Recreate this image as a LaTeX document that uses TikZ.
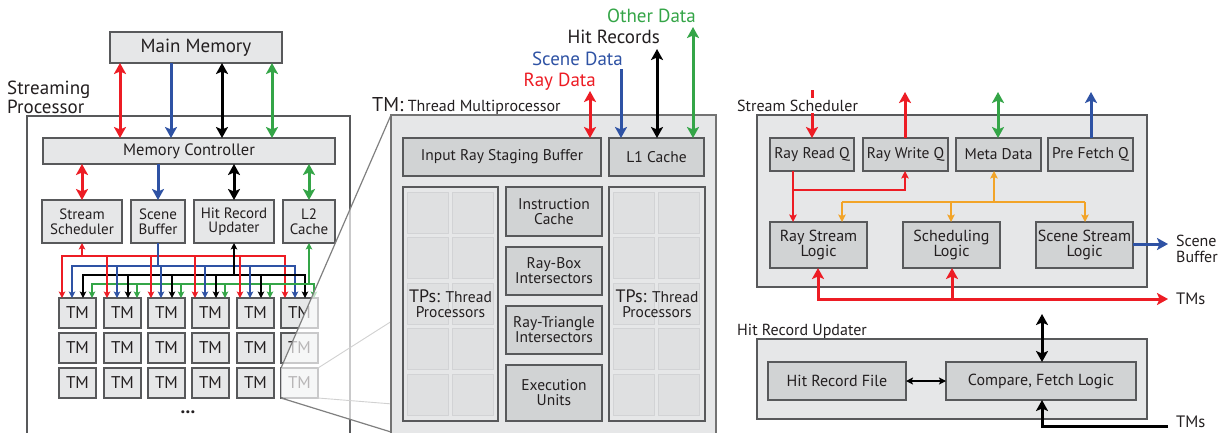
\documentclass[tikz,border=0pt]{standalone}
\usepackage{fontspec}
\setmainfont{PT Sans}
\usetikzlibrary{arrows.meta}
\definecolor{cred}{HTML}{ED1C24}
\definecolor{cblue}{HTML}{2E52A4}
\definecolor{cgreen}{HTML}{34A547}
\definecolor{corange}{HTML}{F2A428}
\definecolor{ctext}{HTML}{231F20}
\definecolor{cbord}{HTML}{58595B}
\definecolor{clight}{HTML}{E6E7E8}
\definecolor{cdark}{HTML}{D1D3D4}
\definecolor{ccell}{HTML}{DFE0E1}
\definecolor{ccelld}{HTML}{D2D3D5}
\newcommand{\myfz}[2]{\fontsize{#1}{#2}\selectfont}
\newcommand{\bx}[7][]{\node[#1,anchor=north west,minimum width={(#4)-(#2)},minimum height={(#5)-(#3)}] (#6) at (#2,#3) {#7};}
\tikzset{
  box/.style={draw=cbord, fill=clight, line width=1.3pt, inner sep=0pt, outer sep=0pt, align=center, text=ctext},
  dbox/.style={box, fill=cdark},
  lbl/.style={inner sep=0pt, text=ctext},
  thka/.style={line width=3pt, -{Stealth[length=11pt,width=12pt,inset=2.5pt]}},
  thkd/.style={line width=3pt, {Stealth[length=11pt,width=12pt,inset=2.5pt]}-{Stealth[length=11pt,width=12pt,inset=2.5pt]}},
  bus/.style={line width=1.8pt},
  busa/.style={line width=1.8pt, -{Stealth[length=6.5pt,width=6.5pt,inset=1.5pt]}},
  busd/.style={line width=1.8pt, {Stealth[length=6.5pt,width=6.5pt,inset=1.5pt]}-{Stealth[length=6.5pt,width=6.5pt,inset=1.5pt]}},
  mida/.style={line width=2pt, -{Stealth[length=7.5pt,width=7.5pt,inset=1.5pt]}},
  thind/.style={line width=1.3pt, {Stealth[length=7pt,width=7pt,inset=1.5pt]}-{Stealth[length=7pt,width=7pt,inset=1.5pt]}},
}
\begin{document}
\begin{tikzpicture}[x=1pt,y=-1pt]
\useasboundingbox (0,0) rectangle (1225,432);
\fill[white] (0,0) rectangle (1225,432);

% ================= LEFT: Streaming Processor =================
\node[lbl, anchor=north west, align=left, font=\myfz{19}{17}] (splbl) at (7,81) {Streaming\\Processor};
\bx[box, fill=white]{27}{116}{350}{445}{sp}{}
\bx[box, font=\myfz{19}{19}]{110}{32}{282}{63}{mm}{Main Memory}
\bx[box, font=\myfz{16.5}{16.5}]{43}{138}{335}{164}{mc}{Memory Controller}
\bx[box, font=\myfz{15}{14.5}]{42}{200}{122}{243}{ss}{Stream\\Scheduler}
\bx[box, font=\myfz{15}{14.5}]{131}{200}{185}{243}{sb}{Scene\\Buffer}
\bx[box, font=\myfz{15}{14.5}]{194}{200}{274}{243}{hru}{Hit Record\\Updater}
\bx[box, font=\myfz{15}{14.5}]{283}{200}{335}{243}{ltwo}{L2\\Cache}

\draw[thkd, cred]   (mm.south -| 120,0) -- (mc.north -| 120,0);
\draw[thka, cblue]  (mm.south -| 171,0) -- (mc.north -| 171,0);
\draw[thkd, black]  (mm.south -| 222,0) -- (mc.north -| 222,0);
\draw[thkd, cgreen] (mm.south -| 272,0) -- (mc.north -| 272,0);

\draw[thkd, cred]   (mc.south -| 82,0)  -- (ss.north -| 82,0);
\draw[thka, cblue]  (mc.south -| 158,0) -- (sb.north -| 158,0);
\draw[thkd, black]  (mc.south -| 234,0) -- (hru.north -| 234,0);
\draw[thkd, cgreen] (mc.south -| 309,0) -- (ltwo.north -| 309,0);

% TM grid
\foreach \y [count=\r] in {298,333,368} {
  \foreach \x [count=\c] in {59,104,148,192,237,281} {
    \bx[box, font=\myfz{17}{17}]{\x}{\y}{\x+37}{\y+30}{tm-\r-\c}{TM}
  }
}
\node[lbl, font=\myfz{19}{19}\bfseries] (dots) at (188,412) {...};

% buses
\draw[busd, cred]   (tm-1-1.north -| 62,0) -- (62,256) -- (285,256) -- (tm-1-6.north -| 285,0);
\draw[busd, cblue]  (tm-1-1.north -| 72,0) -- (72,266) -- (295,266) -- (tm-1-6.north -| 295,0);
\draw[busd, black]  (tm-1-1.north -| 83,0) -- (83,275) -- (305,275) -- (tm-1-6.north -| 305,0);
\draw[busd, cgreen] (tm-1-1.north -| 92,0) -- (92,284) -- (314,284) -- (tm-1-6.north -| 314,0);
\foreach \x [count=\c from 2] in {104,148,192,237} {
  \draw[busa, cred]   (\x+3,256)  -- (tm-1-\c.north -| \x+3,0);
  \draw[busa, cblue]  (\x+13,266) -- (tm-1-\c.north -| \x+13,0);
  \draw[busa, black]  (\x+24,275) -- (tm-1-\c.north -| \x+24,0);
  \draw[busa, cgreen] (\x+33,284) -- (tm-1-\c.north -| \x+33,0);
}
\draw[busa, cred]   (82,256)  -- (ss.south -| 82,0);
\draw[bus, cblue]   (sb.south -| 158,0) -- (158,266);
\draw[busa, black]  (234,275) -- (hru.south -| 234,0);
\draw[busa, cgreen] (309,284) -- (ltwo.south -| 309,0);

% magnifier frustum
\fill[white, opacity=0.68] (281,368) -- (391,115) -- (716,115) -- (716,432) -- (391,432) -- (281,397) -- cycle;
\draw[black!18, line width=0.9pt] (tm-3-6.north east) -- (716,115);
\draw[black!18, line width=0.9pt] (tm-3-6.south east) -- (716,430);
\draw[black!50, line width=1.2pt] (tm-3-6.north west) -- (391,115);
\draw[black!50, line width=1.2pt] (tm-3-6.south west) -- (391,432);

% ================= MIDDLE: TM =================
\node[lbl, anchor=base west, font=\myfz{16}{16}] (tmlbl) at (372,111) {{\myfz{20}{20}TM:} Thread Multiprocessor};
\bx[box, draw=black!55]{391}{115}{716}{445}{tmbox}{}
\bx[dbox, font=\myfz{15.5}{15.5}]{403}{138}{601}{176}{irsb}{Input Ray Staging Buffer}
\bx[dbox, font=\myfz{15.5}{15.5}]{609}{138}{704}{176}{lone}{L1 Cache}

\coordinate (rayend) at (590,91);
\coordinate (sceneend) at (621,69);
\coordinate (hitend) at (657,49);
\coordinate (othend) at (693,27);
\draw[thkd, cred]   (rayend)   -- (irsb.north -| rayend);
\draw[thka, cblue]  (sceneend) -- (lone.north -| sceneend);
\draw[thkd, black]  (hitend)   -- (lone.north -| hitend);
\draw[thkd, cgreen] (othend)   -- (lone.north -| othend);
\node[lbl, anchor=base east, text=cred,   font=\myfz{19}{19}] at (596,86) {Ray Data};
\node[lbl, anchor=base east, text=cblue,  font=\myfz{19}{19}] at (623,65) {Scene Data};
\node[lbl, anchor=base east, text=ctext,  font=\myfz{19}{19}] at (660,43) {Hit Records};
\node[lbl, anchor=base east, text=cgreen, font=\myfz{19}{19}] at (696,22) {Other Data};

% TP blocks
\bx[box]{403}{187}{498}{421}{tpl}{}
\bx[box]{609}{187}{705}{421}{tpr}{}
\foreach \px in {403,609} {
  \foreach \dx in {4,49} {
    \foreach \k in {0,...,4} {
      \draw[fill=ccell, draw=ccelld, line width=0.8pt] (\px+\dx,187+5+45.6*\k) rectangle ++(41.5,41);
    }
  }
}
\node[lbl, align=center, font=\myfz{15.5}{15}] at (tpl.center) {{\myfz{18}{18}TPs:} Thread\\Processors};
\node[lbl, align=center, font=\myfz{15.5}{15}] at (tpr.center) {{\myfz{18}{18}TPs:} Thread\\Processors};

\bx[dbox, font=\myfz{15.5}{15}]{506}{187}{602}{236}{ic}{Instruction\\Cache}
\bx[dbox, font=\myfz{15.5}{15}]{506}{247}{602}{295}{rb}{Ray-Box\\Intersectors}
\bx[dbox, font=\myfz{15.5}{15}]{506}{306}{602}{354}{rt}{Ray-Triangle\\Intersectors}
\bx[dbox, font=\myfz{15.5}{15}]{506}{365}{602}{421}{eu}{Execution\\Units}

% ================= RIGHT: Stream Scheduler =================
\bx[box]{757}{115}{1147}{287}{ssbox}{}
\bx[dbox, font=\myfz{15.5}{15}]{770}{138}{854}{171}{rrq}{Ray Read Q}
\bx[dbox, font=\myfz{15.5}{15}]{863}{138}{948}{171}{rwq}{Ray Write Q}
\bx[dbox, font=\myfz{15.5}{15}]{956}{138}{1041}{171}{md}{Meta Data}
\bx[dbox, font=\myfz{15.5}{15}]{1048}{138}{1133}{171}{pfq}{Pre Fetch Q}
\bx[dbox, font=\myfz{16}{14.5}]{770}{222}{867}{268}{rsl}{Ray Stream\\Logic}
\bx[dbox, font=\myfz{16}{14.5}]{903}{222}{1000}{268}{sl}{Scheduling\\Logic}
\bx[dbox, font=\myfz{16}{14.5}]{1036}{222}{1133}{268}{ssl}{Scene Stream\\Logic}

\coordinate (rrin) at (812,90);
\coordinate (rwout) at (905,92);
\coordinate (mdout) at (998,92);
\coordinate (pfout) at (1091,92);
\draw[thka, cred] (rrin) -- (rrq.north);
\node[lbl, anchor=base west, fill=white, inner xsep=0pt, inner ysep=2pt, font=\myfz{16}{16}] (sslbl) at (737,111) {Stream Scheduler};
\draw[thka, cred]   (rwq.north -| rwout) -- (rwout);
\draw[thkd, cgreen] (md.north -| mdout) -- (mdout);
\draw[thka, cblue]  (pfq.north -| pfout) -- (pfout);

\draw[mida, cred] (rrq.south -| 793,0) -- (rsl.north -| 793,0);
\draw[mida, cred] (793,190) -| (rwq.south -| 905,0);
\draw[mida, corange] (994,202) -- (md.south -| 994,0);
\draw[line width=2pt, corange] (842,202) -- (1085,202);
\draw[mida, corange] (842,202) -- (rsl.north -| 842,0);
\draw[mida, corange] (951,202) -- (sl.north -| 951,0);
\draw[mida, corange] (1085,202) -- (ssl.north -| 1085,0);

\coordinate (sbout) at (1168,244);
\draw[thka, cblue] (ssl.east |- sbout) -- (sbout);
\node[lbl, anchor=west, align=left, font=\myfz{16}{15.5}] at (1176,249) {Scene\\Buffer};

\coordinate (tmsred) at (1168,299);
\draw[thkd, cred] (rsl.south -| 818,0) |- (tmsred);
\draw[thka, cred] (952,299) -- (sl.south -| 952,0);
\node[lbl, anchor=west, font=\myfz{16.5}{16.5}] at (1176,299) {TMs};

% ================= RIGHT: Hit Record Updater =================
\node[lbl, anchor=base west, font=\myfz{16}{16}] (hrulbl) at (737,335) {Hit Record Updater};
\bx[box]{757}{339}{1147}{419}{hrubox}{}
\bx[dbox, font=\myfz{16}{16}]{768}{362}{906}{400}{hrf}{Hit Record File}
\bx[dbox, font=\myfz{16}{16}]{946}{362}{1136}{400}{cfl}{Compare, Fetch Logic}
\draw[thind, black] (hrf.east) -- (cfl.west);
\coordinate (hruup) at (1042,314);
\draw[thkd, black] (hruup) -- (cfl.north -| hruup);
\coordinate (tmsblk) at (1168,426);
\draw[thka, black] (tmsblk) -| (cfl.south -| hruup);
\node[lbl, anchor=base west, font=\myfz{16.5}{16.5}] at (1176,427) {TMs};
\end{tikzpicture}
\end{document}
